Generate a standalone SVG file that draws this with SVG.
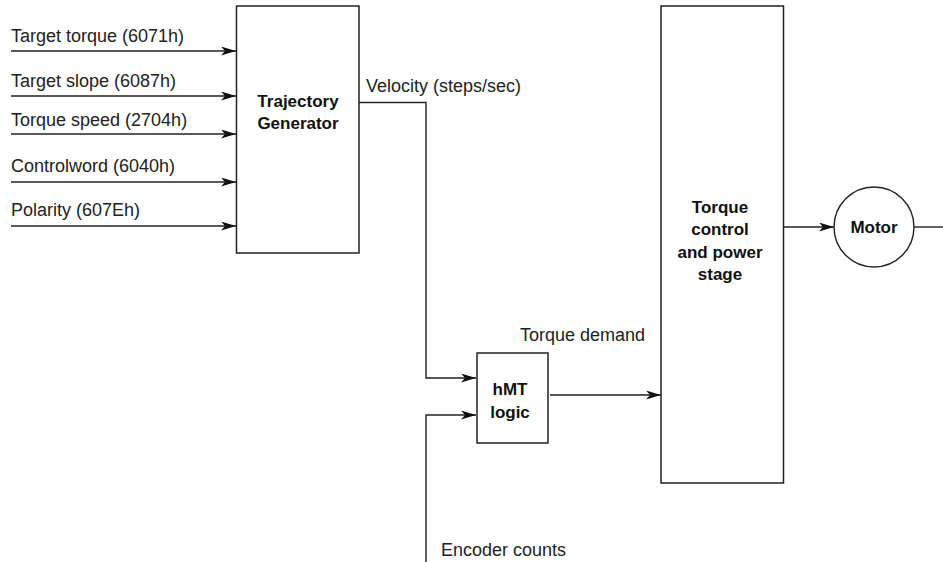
<svg xmlns="http://www.w3.org/2000/svg" width="943" height="562" viewBox="0 0 943 562">
<style>
.t{font-family:"Liberation Sans",Arial,sans-serif;font-size:18px;fill:#222}
.b{font-family:"Liberation Sans",Arial,sans-serif;font-size:17px;font-weight:bold;fill:#111;text-anchor:middle}
.box{fill:#fff;stroke:#222;stroke-width:1.5}
.ln{fill:none;stroke:#222;stroke-width:1.4}
</style>
<defs>
<marker id="arr" markerUnits="userSpaceOnUse" markerWidth="16" markerHeight="10" refX="15" refY="4.5" orient="auto">
<path d="M0,0 L15,4.5 L0,9 L4,4.5 z" fill="#111"/>
</marker>
</defs>
<rect width="943" height="562" fill="#fff"/>
<g id="connectors">
<line class="ln" x1="11" y1="51" x2="236" y2="51" marker-end="url(#arr)"/>
<line class="ln" x1="11" y1="96" x2="236" y2="96" marker-end="url(#arr)"/>
<line class="ln" x1="11" y1="134" x2="236" y2="134" marker-end="url(#arr)"/>
<line class="ln" x1="11" y1="182" x2="236" y2="182" marker-end="url(#arr)"/>
<line class="ln" x1="11" y1="226" x2="236" y2="226" marker-end="url(#arr)"/>
<polyline class="ln" points="359,102.5 426,102.5 426,378 476,378" marker-end="url(#arr)"/>
<polyline class="ln" points="426,562 426,415 476,415" marker-end="url(#arr)"/>
<line class="ln" x1="550" y1="395" x2="661" y2="395" marker-end="url(#arr)"/>
<line class="ln" x1="783" y1="227" x2="834" y2="227" marker-end="url(#arr)"/>
<line class="ln" x1="914" y1="227" x2="943" y2="227"/>
<text class="t" x="11" y="42">Target torque (6071h)</text>
<text class="t" x="11" y="87">Target slope (6087h)</text>
<text class="t" x="11" y="126">Torque speed (2704h)</text>
<text class="t" x="11" y="172">Controlword (6040h)</text>
<text class="t" x="11" y="216">Polarity (607Eh)</text>
<text class="t" x="366" y="92">Velocity (steps/sec)</text>
<text class="t" x="520" y="341">Torque demand</text>
<text class="t" x="441" y="556">Encoder counts</text>
</g>
<g id="trajectory">
<rect class="box" x="236.5" y="6" width="122.5" height="247"/>
<text class="b" x="298" y="107">Trajectory</text>
<text class="b" x="298" y="129">Generator</text>
</g>
<g id="hmt">
<rect class="box" x="477" y="353" width="71" height="90"/>
<text class="b" x="510" y="395">hMT</text>
<text class="b" x="510" y="418">logic</text>
</g>
<g id="torque">
<rect class="box" x="661" y="6" width="122.5" height="477"/>
<text class="b" x="720" y="213">Torque</text>
<text class="b" x="720" y="235">control</text>
<text class="b" x="720" y="258">and power</text>
<text class="b" x="720" y="280">stage</text>
</g>
<g id="motor">
<circle cx="874" cy="227" r="40" fill="#fff" stroke="#222" stroke-width="1.4"/>
<text class="b" x="874" y="233">Motor</text>
</g>
</svg>
